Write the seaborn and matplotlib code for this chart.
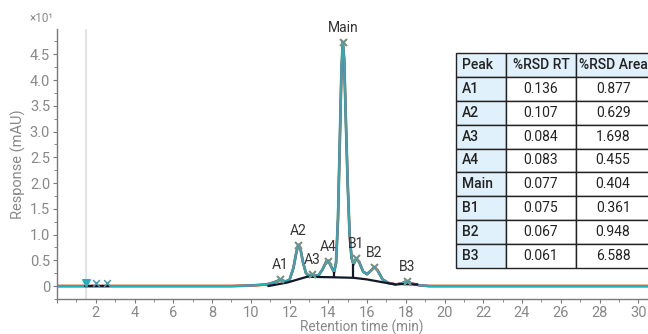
import matplotlib
matplotlib.use("Agg")
import matplotlib.pyplot as plt
import matplotlib.ticker as mticker
import seaborn as sns
import pandas as pd

# ---- chromatogram trace (retention time min, response mAU) ----
trace_t = [0.0, 1.3, 9.0, 10.0, 10.8, 11.2, 11.5, 11.8, 12.0, 12.2, 12.35, 12.45,
           12.55, 12.7, 12.85, 13.0, 13.15, 13.3, 13.5, 13.7, 13.9, 14.0, 14.15,
           14.3, 14.4, 14.5, 14.6, 14.68, 14.75, 14.82, 14.9, 15.0, 15.1, 15.2,
           15.3, 15.45, 15.6, 15.8, 16.0, 16.2, 16.38, 16.55, 16.8, 17.1, 17.5,
           17.8, 18.05, 18.3, 18.7, 19.2, 31.0]
trace_y = [0.0, 0.0, 0.0, 0.1, 0.3, 0.7, 1.2, 0.9, 1.2, 3.5, 6.5, 8.0,
           7.5, 4.5, 2.5, 2.0, 2.3, 2.0, 2.1, 3.2, 4.8, 4.9, 3.8,
           2.7, 4.5, 13.0, 29.0, 42.0, 47.4, 44.0, 33.0, 20.0, 10.0, 5.5,
           4.2, 5.4, 4.6, 2.8, 2.3, 3.0, 3.7, 3.0, 1.3, 0.6, 0.3,
           0.5, 1.0, 0.5, 0.15, 0.0, 0.0]

# ---- integration baselines ----
base_t = [10.9, 11.9, 12.9, 14.3, 15.3, 15.98, 16.93, 17.5]
base_y = [0.0, 0.7, 1.8, 1.7, 1.6, 1.3, 0.65, 0.3]
base2_t = [17.6, 18.6]
base2_y = [0.4, 0.3]
early_base_t = [1.45, 2.7]
early_base_y = [0.0, 0.0]
drop_t = [14.3, 15.3]
drop_lo = [1.7, 1.6]
drop_hi = [2.7, 4.2]

# ---- peaks ----
peak_names = ["A1", "A2", "A3", "A4", "Main", "B1", "B2", "B3"]
peak_rt = [11.5, 12.45, 13.15, 14.0, 14.75, 15.45, 16.38, 18.05]
peak_h = [1.3, 8.0, 2.3, 4.9, 47.4, 5.4, 3.7, 1.0]
early_rt = [2.0, 2.6]
early_h = [0.5, 0.5]
void_rt = 1.48

# ---- table ----
col_labels = ["Peak", "%RSD RT", "%RSD Area"]
rsd_rt = ["0.136", "0.107", "0.084", "0.083", "0.077", "0.075", "0.067", "0.061"]
rsd_area = ["0.877", "0.629", "1.698", "0.455", "0.404", "0.361", "0.948", "6.588"]

sns.set_style("white")
plt.rcParams["font.family"] = ["Roboto", "DejaVu Sans"]

fig = plt.figure(figsize=(6.48, 3.34), dpi=100)
ax = fig.add_axes([0.088, 0.105, 0.915, 0.808])

gray = "#7a7a7a"
df = pd.DataFrame({"t": trace_t, "y": trace_y})
ax.axvline(void_rt, color="#e4e4e4", lw=1.6, zorder=0)
for c, lw in [("#f08a24", 2.0), ("#d9534f", 1.8), ("#8e5bb5", 1.6), ("#1fb3b8", 1.4)]:
    sns.lineplot(data=df, x="t", y="y", ax=ax, color=c, lw=lw, estimator=None,
                 sort=False, zorder=2)

sns.lineplot(x=base_t, y=base_y, ax=ax, color="#101828", lw=1.6, estimator=None, sort=False, zorder=3)
sns.lineplot(x=base2_t, y=base2_y, ax=ax, color="#101828", lw=1.6, estimator=None, sort=False, zorder=3)
sns.lineplot(x=early_base_t, y=early_base_y, ax=ax, color="#101828", lw=1.6, estimator=None, sort=False, zorder=3)
ax.vlines(drop_t, drop_lo, drop_hi, color="#101828", lw=1.6, zorder=3)

ax.scatter(peak_rt, peak_h, marker="x", s=24, color="#f08a24", lw=1.5, zorder=4)
ax.scatter(peak_rt, peak_h, marker="x", s=24, color="#4a9db0", lw=1.1, zorder=5)
ax.scatter(early_rt, early_h, marker="x", s=24, color="#4a9db0", lw=1.1, zorder=5)
ax.scatter([void_rt], [0.6], marker="v", s=30, color="#1fb3b8", zorder=5)

for n, t, h in zip(peak_names, peak_rt, peak_h):
    ax.annotate(n, (t, h), xytext=(0, 5), textcoords="offset points",
                ha="center", va="bottom", fontsize=10, color="#333333")

ax.set_xlim(0, 30.6)
ax.set_ylim(-2.5, 49.9)
ax.xaxis.set_major_locator(mticker.MultipleLocator(2))
ax.xaxis.set_minor_locator(mticker.MultipleLocator(1))
ax.yaxis.set_major_locator(mticker.MultipleLocator(5))
ax.yaxis.set_minor_locator(mticker.MultipleLocator(2.5))
ax.xaxis.set_major_formatter(mticker.FuncFormatter(lambda v, p: "" if v == 0 else f"{v:.0f}"))
ax.yaxis.set_major_formatter(mticker.FuncFormatter(lambda v, p: "0" if v == 0 else f"{v/10:.1f}"))
ax.tick_params(axis="both", which="major", length=3, width=0.8, color=gray,
               labelcolor="#888888", labelsize=10.5, direction="out", left=True,
               bottom=True, pad=2)
ax.tick_params(axis="both", which="minor", length=2, width=0.6, color=gray, left=True, bottom=True)
for s in ["top", "right"]:
    ax.spines[s].set_visible(False)
for s in ["left", "bottom"]:
    ax.spines[s].set_color(gray)
    ax.spines[s].set_linewidth(1.0)
ax.set_xlabel("")
fig.text(0.558, 0.02, "Retention time (min)", color="#888888", fontsize=9.8,
         ha="center", va="center")
ax.set_ylabel("Response (mAU)", color="#888888", fontsize=10.5, labelpad=3)
fig.text(0.046, 0.945, "×10¹", color="#888888", fontsize=8.5, ha="left", va="center")

# table
tax = fig.add_axes([0.7037, 0.1985, 0.2997, 0.642])
tax.axis("off")
cells = [[n, r, a] for n, r, a in zip(peak_names, rsd_rt, rsd_area)]
tbl = tax.table(cellText=cells, colLabels=col_labels, bbox=[0, 0, 1, 1],
                colWidths=[49.7, 70, 74], cellLoc="center")
tbl.auto_set_font_size(False)
blue = "#e1f1fb"
for (r, c), cell in tbl.get_celld().items():
    cell.set_edgecolor("#222222")
    cell.set_linewidth(1.0)
    cell.get_text().set_fontsize(10)
    cell.get_text().set_color("#222222")
    if r == 0 or c == 0:
        cell.set_facecolor(blue)
        cell.get_text().set_fontweight("medium")
    if c == 0:
        cell.get_text().set_ha("left")
        cell.PAD = 0.12

fig.savefig("out.png", dpi=100)
